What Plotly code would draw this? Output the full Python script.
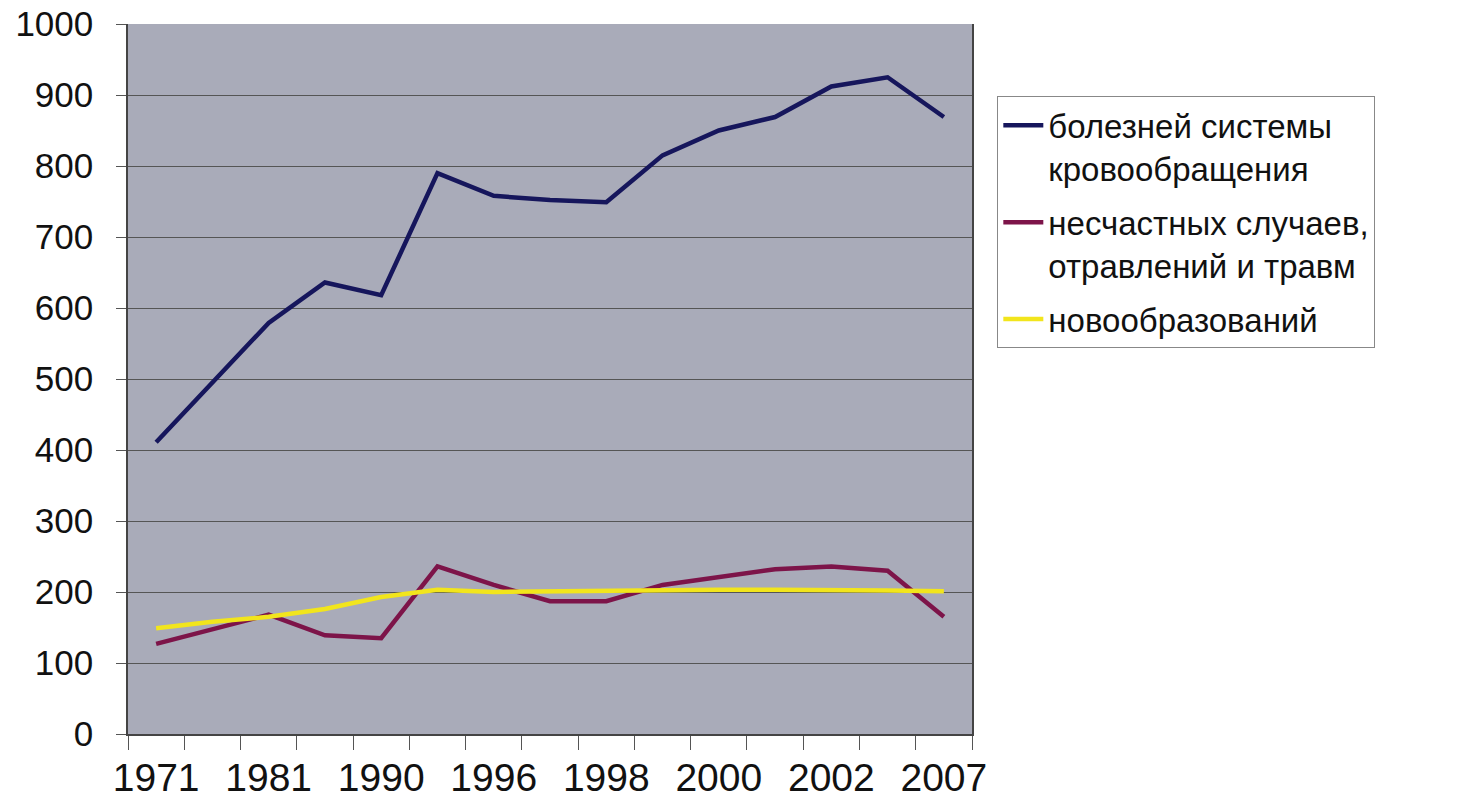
import plotly.graph_objects as go

years = ["1971", "1976", "1981", "1986", "1990", "1995", "1996", "1997",
         "1998", "1999", "2000", "2001", "2002", "2003", "2007"]
labeled_years = ["1971", "1981", "1990", "1996", "1998", "2000", "2002", "2007"]

circulatory = [411, 495, 579, 636, 618, 790, 758, 752, 749, 815, 850, 869, 912, 925, 869]
accidents = [127, 148, 168, 139, 135, 236, 210, 187, 187, 210, 221, 232, 236, 230, 165]
neoplasms = [149, 158, 165, 176, 193, 203, 200, 201, 201, 203, 203, 203, 203, 202, 201]

names = ["болезней системы<br>кровообращения",
         "несчастных случаев,<br>отравлений и травм",
         "новообразований"]
colors = ["#16165c", "#7d1449", "#f2e51c"]

x = list(range(len(years)))
tickpos = [years.index(y) for y in labeled_years]

fig = go.Figure()
for i, (vals, name, col) in enumerate(zip([circulatory, accidents, neoplasms], names, colors)):
    fig.add_trace(go.Scatter(x=x, y=vals, mode="lines", name=name,
                             legendgroup=f"g{i}",
                             line=dict(color=col, width=4.5)))

fig.update_layout(
    width=1460, height=812,
    margin=dict(l=128, r=488, t=24, b=78),
    paper_bgcolor="white",
    plot_bgcolor="#a9abb9",
    font=dict(family="Arial, Liberation Sans, sans-serif", color="#111"),
    showlegend=True,
    legend=dict(x=1.03, y=0.898, xanchor="left", yanchor="top",
                bgcolor="white", bordercolor="#888", borderwidth=1,
                font=dict(size=33, color="#111"), tracegroupgap=8,
                traceorder="grouped", valign="top", itemwidth=40),
)
fig.update_xaxes(
    range=[-0.5, len(years) - 0.5], automargin=False,
    tickmode="array", tickvals=tickpos, ticktext=labeled_years,
    ticks="outside", ticklen=8, tickcolor="rgba(0,0,0,0)",
    tickfont=dict(size=39, color="#111"),
    showgrid=False, zeroline=False,
    showline=True, linecolor="#444", linewidth=1.5,
    minor=dict(tickmode="linear", tick0=-0.5, dtick=1, ticks="outside",
               ticklen=14, tickcolor="#555", tickwidth=1, showgrid=False),
)
fig.update_yaxes(
    range=[0, 1000], tickmode="linear", tick0=0, dtick=100, automargin=False,
    ticks="outside", ticklen=10, tickcolor="#555",
    tickfont=dict(size=35, color="#111"),
    ticklabelstandoff=16,
    showgrid=True, gridcolor="#555", gridwidth=1,
    zeroline=False,
    showline=True, linecolor="#444", linewidth=1.5, mirror=True,
)

fig.write_html("out.html")
